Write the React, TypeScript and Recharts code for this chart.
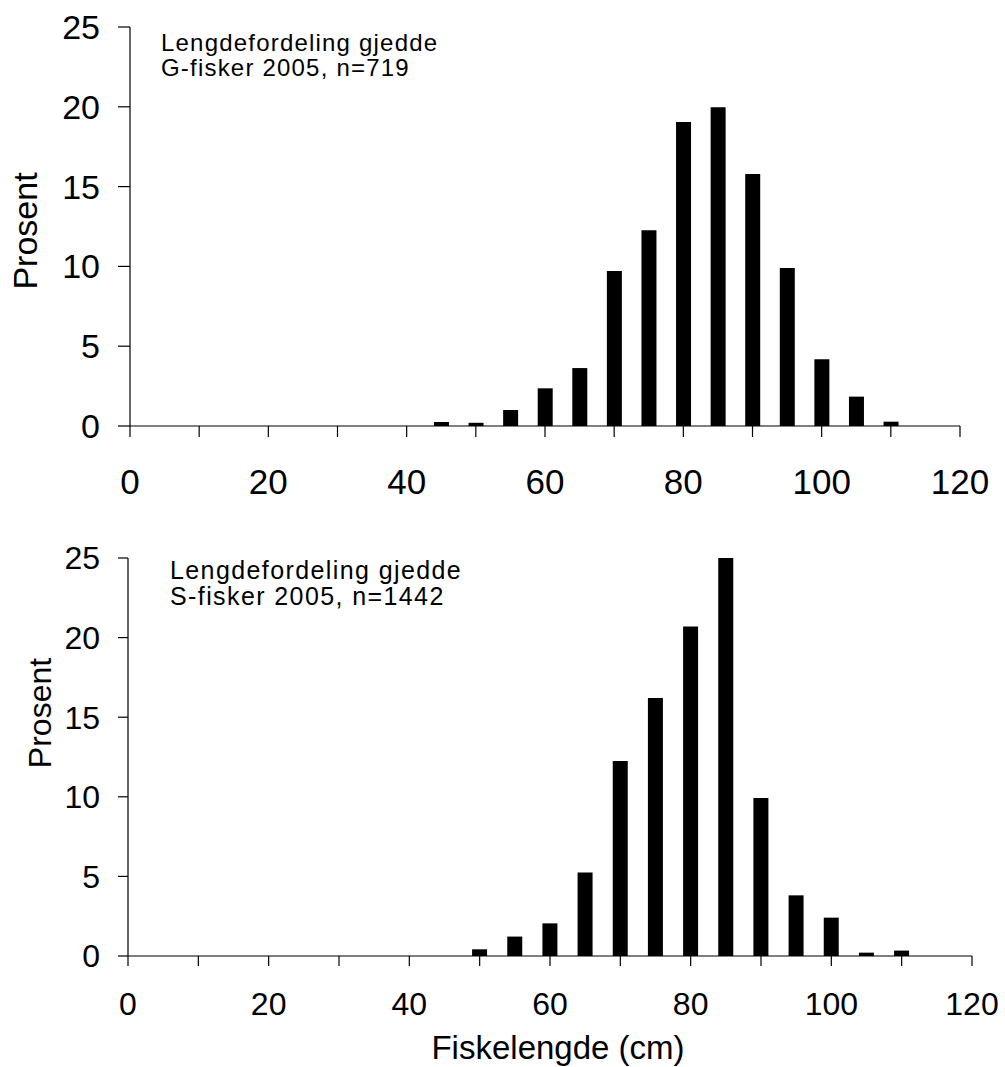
import React from "react";
import { BarChart, Bar, XAxis, YAxis } from "recharts";

const lengths = [45, 50, 55, 60, 65, 70, 75, 80, 85, 90, 95, 100, 105, 110];
const gFisker = [0.25, 0.2, 1.0, 2.36, 3.63, 9.71, 12.26, 19.05, 19.97, 15.79, 9.9, 4.18, 1.84, 0.27];
const sFisker = [0, 0.42, 1.22, 2.05, 5.24, 12.25, 16.2, 20.7, 25.0, 9.92, 3.81, 2.41, 0.21, 0.34];
const xTicks = [0, 10, 20, 30, 40, 50, 60, 70, 80, 90, 100, 110, 120];
const yTicks = [0, 5, 10, 15, 20, 25];
const titleTop = ["Lengdefordeling gjedde", "G-fisker 2005, n=719"];
const titleBottom = ["Lengdefordeling gjedde", "S-fisker 2005, n=1442"];

const topData = lengths.map((l, i) => ({ len: l, v: gFisker[i] }));
const bottomData = lengths.map((l, i) => ({ len: l, v: sFisker[i] }));

const FONT = "'Liberation Sans', Arial, sans-serif";
const axisLine = { stroke: "#000", strokeWidth: 1.2 };

const xFmt = (v: number) => (v % 20 === 0 ? String(v) : "");

export default function App() {
  return (
    <div style={{ position: "absolute", left: 0, top: 0, width: 1005, height: 1067, background: "#fff", fontFamily: FONT }}>
      <div style={{ position: "absolute", left: 0, top: 0 }}>
        <BarChart width={1005} height={530} data={topData} margin={{ top: 27, right: 45, left: 0, bottom: 0 }}>
          <XAxis
            dataKey="len"
            type="number"
            domain={[0, 120]}
            ticks={xTicks}
            interval={0}
            tickFormatter={xFmt}
            height={104}
            axisLine={axisLine}
            tickLine={axisLine}
            tickSize={11}
            tickMargin={32}
            tick={{ fill: "#000", fontSize: 35, fontFamily: FONT }}
          />
          <YAxis
            type="number"
            domain={[0, 25]}
            ticks={yTicks}
            interval={0}
            width={130}
            axisLine={axisLine}
            tickLine={axisLine}
            tickSize={12}
            tickMargin={18}
            tick={{ fill: "#000", fontSize: 34, fontFamily: FONT }}
            label={{
              content: () => (
                <text x={25} y={231} transform="rotate(-90 25 231)" textAnchor="middle" dominantBaseline="central" fontSize={34} fontFamily={FONT} fill="#000">
                  Prosent
                </text>
              ),
            }}
          />
          <Bar dataKey="v" fill="#000" barSize={15} isAnimationActive={false} />
        </BarChart>
      </div>
      <div style={{ position: "absolute", left: 161, top: 30, fontSize: 24, lineHeight: "25px", letterSpacing: 1.2, color: "#000", whiteSpace: "pre" }}>
        <div>{titleTop[0]}</div>
        <div>{titleTop[1]}</div>
      </div>

      <div style={{ position: "absolute", left: 0, top: 530 }}>
        <BarChart width={1005} height={537} data={bottomData} margin={{ top: 28, right: 33, left: 0, bottom: 0 }}>
          <XAxis
            dataKey="len"
            type="number"
            domain={[0, 120]}
            ticks={xTicks}
            interval={0}
            tickFormatter={xFmt}
            height={111}
            axisLine={axisLine}
            tickLine={axisLine}
            tickSize={10}
            tickMargin={26}
            tick={{ fill: "#000", fontSize: 32, fontFamily: FONT }}
            label={{
              content: () => (
                <text x={558} y={529} textAnchor="middle" fontSize={33} fontFamily={FONT} fill="#000">
                  Fiskelengde (cm)
                </text>
              ),
            }}
          />
          <YAxis
            type="number"
            domain={[0, 25]}
            ticks={yTicks}
            interval={0}
            width={128}
            axisLine={axisLine}
            tickLine={axisLine}
            tickSize={10}
            tickMargin={18}
            tick={{ fill: "#000", fontSize: 32, fontFamily: FONT }}
            label={{
              content: () => (
                <text x={40} y={183} transform="rotate(-90 40 183)" textAnchor="middle" dominantBaseline="central" fontSize={32} fontFamily={FONT} fill="#000">
                  Prosent
                </text>
              ),
            }}
          />
          <Bar dataKey="v" fill="#000" barSize={15} isAnimationActive={false} />
        </BarChart>
      </div>
      <div style={{ position: "absolute", left: 170, top: 557, fontSize: 25, lineHeight: "26px", letterSpacing: 1.4, color: "#000", whiteSpace: "pre" }}>
        <div>{titleBottom[0]}</div>
        <div>{titleBottom[1]}</div>
      </div>
    </div>
  );
}
